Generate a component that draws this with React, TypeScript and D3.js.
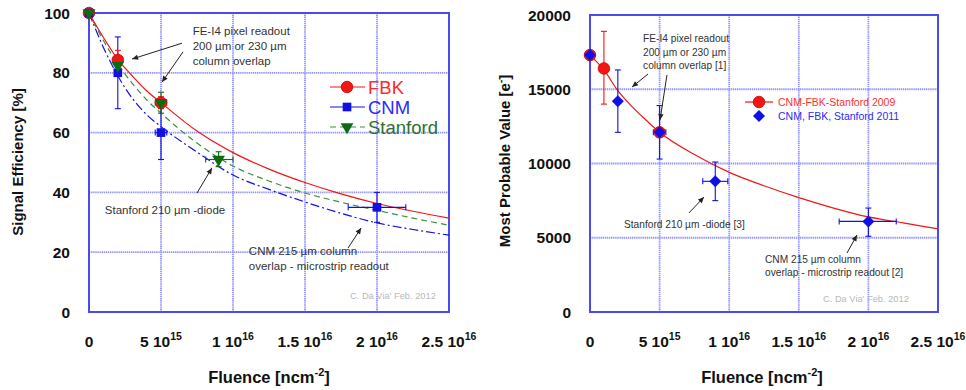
import React from 'react';
import * as d3 from 'd3';

// fluence in units of 1e15 n/cm^2
const fluenceTicks = [0, 5, 10, 15, 20, 25];
const fluenceTickLabels = [['0', ''], ['5 10', '15'], ['1 10', '16'], ['1.5 10', '16'], ['2 10', '16'], ['2.5 10', '16']];

// left panel: signal efficiency [%]
const effTicks = [0, 20, 40, 60, 80, 100];
const fbkPoints = [
  { x: 0, y: 100 },
  { x: 2, y: 84.3, yLo: 81, yHi: 87.5 },
  { x: 5, y: 70, yLo: 68, yHi: 72 },
];
const cnmPoints = [
  { x: 0, y: 100 },
  { x: 2, y: 80, yLo: 68, yHi: 92 },
  { x: 5, y: 60, yLo: 51, yHi: 69, xLo: 4.6, xHi: 5.4 },
  { x: 20, y: 35, yLo: 30, yHi: 40, xLo: 18, xHi: 22 },
];
const stanfordPoints = [
  { x: 0, y: 100 },
  { x: 2, y: 82.5, yLo: 80.5, yHi: 85 },
  { x: 5, y: 70, yLo: 66.5, yHi: 73.5, xLo: 4.6, xHi: 5.4 },
  { x: 9, y: 51, yLo: 48.6, yHi: 53.6, xLo: 8.1, xHi: 10 },
];
const fbkFit = [[0, 100], [1, 91.8], [2, 84.5], [3, 79], [4, 74], [5, 70], [7.5, 60.5], [10, 53.3], [12.5, 47.8], [15, 43.3], [17.5, 39.5], [20, 36.3], [22.5, 33.7], [25, 31.4]];
const stanfordFit = [[0, 100], [1, 90.8], [2, 83], [3, 76.5], [4, 71], [5, 66.5], [7.5, 56.5], [10, 48.8], [12.5, 43.8], [15, 39.8], [17.5, 36.7], [20, 34], [22.5, 31.4], [25, 29]];
const cnmFit = [[0, 100], [1, 88.5], [2, 79], [3, 71.5], [4, 66], [5, 62], [7.5, 53.5], [10, 45.8], [12.5, 41], [15, 36.8], [17.5, 33], [20, 29.8], [22.5, 27.6], [25, 25.7]];

// right panel: most probable value [e-]
const mpvTicks = [0, 5000, 10000, 15000, 20000];
const points2009 = [
  { x: 0, y: 17300 },
  { x: 1, y: 16400, yLo: 14000, yHi: 18900 },
  { x: 5, y: 12100 },
];
const points2011 = [
  { x: 0, y: 17300 },
  { x: 2, y: 14200, yLo: 12100, yHi: 16300 },
  { x: 5, y: 12100, yLo: 10300, yHi: 13900, xLo: 4.55, xHi: 5.45 },
  { x: 9, y: 8800, yLo: 7500, yHi: 10100, xLo: 8.1, xHi: 9.9 },
  { x: 20, y: 6100, yLo: 5100, yHi: 7000, xLo: 17.9, xHi: 22 },
];
const fit2009 = [[0, 17300], [1, 16300], [2, 14900], [3, 13850], [4, 12950], [5, 12100], [7.5, 10600], [10, 9400], [12.5, 8500], [15, 7700], [17.5, 7000], [20, 6400], [22.5, 6000], [25, 5600]];

const leftNotes = [
  { x: 7.2, y: 92.5, lines: ['FE-I4 pixel readout', '200 \u00b5m or 230 \u00b5m', 'column overlap'] },
  { x: 1.1, y: 32.8, lines: ['Stanford 210 \u00b5m -diode'] },
  { x: 11.1, y: 19.1, lines: ['CNM 215 \u00b5m column', 'overlap - microstrip readout'] },
];
const leftArrows = [
  [6.46, 89.9, 2.99, 84.6],
  [6.53, 87, 5.07, 76.9],
  [7.5, 39.8, 8.54, 48.2],
  [17.99, 21.4, 18.9, 28.1],
];
const rightNotes = [
  { x: 3.81, y: 18150, lines: ['FE-I4 pixel readout', '200 \u00b5m or 230 \u00b5m', 'column overlap [1]'] },
  { x: 2.44, y: 5660, lines: ['Stanford 210 \u00b5m -diode [3]'] },
  { x: 12.57, y: 3300, lines: ['CNM 215 \u00b5m column', 'overlap - microstrip readout [2]'] },
];
const rightArrows = [
  [4.17, 16030, 3.02, 15150],
  [5.53, 15960, 5.03, 12930],
  [7.11, 6670, 8.19, 7740],
  [18.46, 3970, 19.18, 5185],
];

const RED = '#f21515';
const BLUE = '#1010e6';
const GREEN = '#0d6b12';
const FRAME = '#4a4af0';
const GRID = '#9494ff';

const symbolPath = (type, size) => d3.symbol(type, size)();

function Marker({ shape, cx, cy, fill }) {
  if (shape === 'circle') {
    return <path d={symbolPath(d3.symbolCircle, 105)} transform={`translate(${cx},${cy})`} fill={fill} stroke="#c00" strokeWidth={0.8} />;
  }
  if (shape === 'square') {
    return <path d={symbolPath(d3.symbolSquare, 75)} transform={`translate(${cx},${cy})`} fill={fill} />;
  }
  if (shape === 'tri') {
    return <path d={symbolPath(d3.symbolTriangle, 70)} transform={`translate(${cx},${cy}) rotate(180)`} fill={fill} />;
  }
  return <path d={symbolPath(d3.symbolSquare, 72)} transform={`translate(${cx},${cy}) rotate(45)`} fill={fill} />;
}

function ErrorBars({ pts, x, y, color }) {
  const c = 3;
  return (
    <g stroke={color} strokeWidth={1.1}>
      {pts.map((d, i) => (
        <g key={i}>
          {d.yLo != null && (
            <>
              <line x1={x(d.x)} x2={x(d.x)} y1={y(d.yLo)} y2={y(d.yHi)} />
              <line x1={x(d.x) - c} x2={x(d.x) + c} y1={y(d.yLo)} y2={y(d.yLo)} />
              <line x1={x(d.x) - c} x2={x(d.x) + c} y1={y(d.yHi)} y2={y(d.yHi)} />
            </>
          )}
          {d.xLo != null && (
            <>
              <line x1={x(d.xLo)} x2={x(d.xHi)} y1={y(d.y)} y2={y(d.y)} />
              <line x1={x(d.xLo)} x2={x(d.xLo)} y1={y(d.y) - c} y2={y(d.y) + c} />
              <line x1={x(d.xHi)} x2={x(d.xHi)} y1={y(d.y) - c} y2={y(d.y) + c} />
            </>
          )}
        </g>
      ))}
    </g>
  );
}

function Frame({ x, y, xTicks, yTicks, yLabel, yFmt, xTitleX }) {
  const [x0, x1] = x.range();
  const [y0, y1] = y.range();
  const bold = { fontFamily: 'Liberation Sans, Arial, sans-serif', fontWeight: 700, fill: '#111' };
  return (
    <g>
      <g stroke={GRID} strokeWidth={1.8} strokeDasharray="1.4,0.7">
        {xTicks.slice(1, -1).map(t => <line key={t} x1={x(t)} x2={x(t)} y1={y0} y2={y1} />)}
        {yTicks.slice(1, -1).map(t => <line key={t} x1={x0} x2={x1} y1={y(t)} y2={y(t)} />)}
      </g>
      <rect x={x0} y={y1} width={x1 - x0} height={y0 - y1} fill="none" stroke={FRAME} strokeWidth={2} />
      {yTicks.map(t => (
        <text key={t} x={x0 - 19} y={y(t)} dy="0.36em" textAnchor="end" fontSize={15.5} style={bold}>{yFmt(t)}</text>
      ))}
      {xTicks.map((t, i) => (
        <text key={t} x={x(t)} y={y0 + 35} textAnchor="middle" fontSize={15.5} style={bold}>
          {fluenceTickLabels[i][0]}
          {fluenceTickLabels[i][1] && <tspan dy={-7} fontSize={10.5}>{fluenceTickLabels[i][1]}</tspan>}
        </text>
      ))}
      <text x={xTitleX} y={383} textAnchor="middle" fontSize={16.5} style={bold}>
        Fluence [ncm<tspan dy={-7} fontSize={11}>-2</tspan><tspan dy={7}>]</tspan>
      </text>
      {yLabel}
    </g>
  );
}

function Notes({ notes, arrows, x, y, size, lh }) {
  return (
    <g>
      {notes.map((n, i) => (
        <text key={i} x={x(n.x)} y={y(n.y)} fontSize={size} fill="#333" fontFamily="Liberation Sans, Arial, sans-serif">
          {n.lines.map((l, j) => <tspan key={j} x={x(n.x)} dy={j === 0 ? 0 : lh}>{l}</tspan>)}
        </text>
      ))}
      {arrows.map((a, i) => (
        <line key={i} x1={x(a[0])} y1={y(a[1])} x2={x(a[2])} y2={y(a[3])} stroke="#222" strokeWidth={1} markerEnd="url(#arrowHead)" />
      ))}
    </g>
  );
}

export default function App() {
  const xL = d3.scaleLinear().domain([0, 25]).range([89, 449]);
  const yL = d3.scaleLinear().domain([0, 100]).range([312, 13]);
  const xR = d3.scaleLinear().domain([0, 25]).range([590, 938]);
  const yR = d3.scaleLinear().domain([0, 20000]).range([312, 15]);

  const lineL = d3.line().x(d => xL(d[0])).y(d => yL(d[1])).curve(d3.curveMonotoneX);
  const lineR = d3.line().x(d => xR(d[0])).y(d => yR(d[1])).curve(d3.curveMonotoneX);
  const font = 'Liberation Sans, Arial, sans-serif';

  return (
    <svg width={966} height={390} style={{ position: 'absolute', left: 0, top: 0, background: '#fff' }}>
      <defs>
        <marker id="arrowHead" viewBox="0 0 10 10" refX={10} refY={5} markerWidth={9} markerHeight={6} markerUnits="userSpaceOnUse" orient="auto">
          <path d="M0,0.5L10,5L0,9.5z" fill="#222" />
        </marker>
      </defs>

      {/* left panel */}
      <Frame
        x={xL} y={yL} xTicks={fluenceTicks} yTicks={effTicks} yFmt={d => String(d)} xTitleX={269}
        yLabel={<text transform="translate(23,162) rotate(-90)" textAnchor="middle" fontSize={15} fontFamily={font} fontWeight={700} fill="#111">Signal Efficiency [%]</text>}
      />
      <path d={lineL(cnmFit)} fill="none" stroke={BLUE} strokeWidth={1.2} strokeDasharray="9,3,2,3" />
      <path d={lineL(stanfordFit)} fill="none" stroke="#3f8f3f" strokeWidth={1.2} strokeDasharray="6,4" />
      <path d={lineL(fbkFit)} fill="none" stroke={RED} strokeWidth={1.2} />
      <ErrorBars pts={cnmPoints} x={xL} y={yL} color={BLUE} />
      <ErrorBars pts={fbkPoints} x={xL} y={yL} color={RED} />
      <ErrorBars pts={stanfordPoints} x={xL} y={yL} color={GREEN} />
      {fbkPoints.map((d, i) => <Marker key={i} shape="circle" cx={xL(d.x)} cy={yL(d.y)} fill={RED} />)}
      {cnmPoints.map((d, i) => <Marker key={i} shape="square" cx={xL(d.x)} cy={yL(d.y)} fill={BLUE} />)}
      {stanfordPoints.map((d, i) => <Marker key={i} shape="tri" cx={xL(d.x)} cy={yL(d.y)} fill={GREEN} />)}
      <Notes notes={leftNotes} arrows={leftArrows} x={xL} y={yL} size={11.5} lh={15} />
      <text x={350} y={299} fontSize={9.3} fill="#b8b8b8" fontFamily={font}>C. Da Via' Feb. 2012</text>

      <g fontFamily={font} fontSize={18.5}>
        <line x1={330} x2={365} y1={87} y2={87} stroke={RED} strokeWidth={1.2} />
        <Marker shape="circle" cx={347} cy={87} fill={RED} />
        <text x={368} y={87} dy="0.36em" fill="#ff2a2a">FBK</text>
        <line x1={330} x2={365} y1={107} y2={107} stroke={BLUE} strokeWidth={1.2} />
        <Marker shape="square" cx={347} cy={107} fill={BLUE} />
        <text x={368} y={107} dy="0.36em" fill="#2a2aff">CNM</text>
        <line x1={330} x2={365} y1={127} y2={127} stroke="#3f8f3f" strokeWidth={1.2} strokeDasharray="6,4" />
        <Marker shape="tri" cx={347} cy={127} fill={GREEN} />
        <text x={368} y={127} dy="0.36em" fill="#2f6f2f">Stanford</text>
      </g>

      {/* right panel */}
      <Frame
        x={xR} y={yR} xTicks={fluenceTicks} yTicks={mpvTicks} yFmt={d => String(d)} xTitleX={762}
        yLabel={
          <text transform="translate(510,161) rotate(-90)" textAnchor="middle" fontSize={15} fontFamily={font} fontWeight={700} fill="#111">
            Most Probable Value [e<tspan dy={-6} fontSize={10}>-</tspan><tspan dy={6}>]</tspan>
          </text>
        }
      />
      <path d={lineR(fit2009)} fill="none" stroke={RED} strokeWidth={1.2} />
      <ErrorBars pts={points2009} x={xR} y={yR} color={RED} />
      <ErrorBars pts={points2011} x={xR} y={yR} color={BLUE} />
      {points2009.map((d, i) => <Marker key={i} shape="circle" cx={xR(d.x)} cy={yR(d.y)} fill={RED} />)}
      {points2011.map((d, i) => <Marker key={i} shape="diamond" cx={xR(d.x)} cy={yR(d.y)} fill={BLUE} />)}
      <Notes notes={rightNotes} arrows={rightArrows} x={xR} y={yR} size={10.2} lh={13.5} />
      <text x={823} y={302} fontSize={9.3} fill="#b8b8b8" fontFamily={font}>C. Da Via' Feb. 2012</text>

      <g fontFamily={font} fontSize={10.5}>
        <line x1={745} x2={773} y1={102} y2={102} stroke={RED} strokeWidth={1.2} />
        <Marker shape="circle" cx={759} cy={102} fill={RED} />
        <text x={778} y={102} dy="0.36em" fill="#ff3030">CNM-FBK-Stanford 2009</text>
        <Marker shape="diamond" cx={759} cy={116} fill={BLUE} />
        <text x={778} y={116} dy="0.36em" fill="#2a2aff">CNM, FBK, Stanford 2011</text>
      </g>
    </svg>
  );
}
